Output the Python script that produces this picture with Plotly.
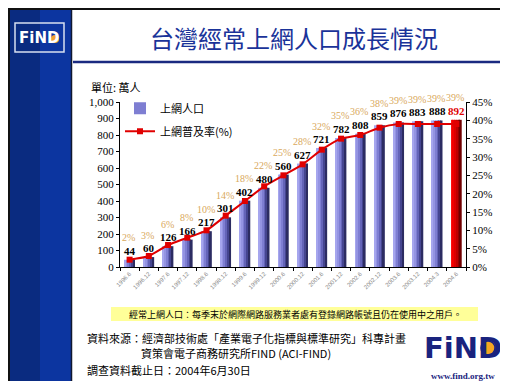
import plotly.graph_objects as go

# ---------------- data ----------------
periods = ["1996.6", "1996.12", "1997.6", "1997.12", "1998.6", "1998.12",
           "1999.6", "1999.12", "2000.6", "2000.12", "2001.6", "2001.12",
           "2002.6", "2002.12", "2003.6", "2003.12", "2004.3", "2004.6"]
users = [44, 60, 126, 166, 217, 301, 402, 480, 560, 627, 721, 782, 808, 859, 876, 883, 888, 892]
penetration = [2, 3, 6, 8, 10, 14, 18, 22, 25, 28, 32, 35, 36, 38, 39, 39, 39, 39]
left_ticks = [0, 100, 200, 300, 400, 500, 600, 700, 800, 900, 1000]
right_ticks = [0, 5, 10, 15, 20, 25, 30, 35, 40, 45]

W, H = 508, 381
PL, PR, PT, PB = 112, 458, 94, 259   # plot area in pixels


def px(x):
    return (x - PL) / (PR - PL)


def py(y):
    return (PB - y) / (PB - PT)


fig = go.Figure()

# gradient bars built from slices
blue_grad = ["#a6a6ee", "#9494e2", "#7e7ed2", "#6464b8", "#454590", "#2c2c62"]
red_grad = ["#ff1010", "#f00000", "#dc0000", "#c00000", "#980000", "#700000"]
n_sl = len(blue_grad)
bw = 0.54
sw = bw / n_sl
last = len(users) - 1
for i in range(n_sl):
    cols = [red_grad[i] if k == last else blue_grad[i] for k in range(len(users))]
    fig.add_trace(go.Bar(
        x=periods, y=users, width=sw * 1.08, offset=-bw / 2 + i * sw,
        marker=dict(color=cols, line=dict(width=0)),
        name="上網人口", showlegend=(i == 2), legendgroup="a",
        hoverinfo="skip"))

fig.add_trace(go.Scatter(
    x=periods, y=penetration, yaxis="y2", mode="lines+markers",
    line=dict(color="#e00000", width=2, shape="spline", smoothing=0.6),
    marker=dict(symbol="square", size=6, color="#e00000"),
    name="上網普及率(%)", legendgroup="b"))

# value labels and percentage labels (category index positions)
ann = []
for k, (v, p) in enumerate(zip(users, penetration)):
    ann.append(dict(x=k, y=v, xref="x", yref="y", text=f"<b>{v:,}</b>", showarrow=False,
                    yshift=9, font=dict(family="Liberation Serif", size=11,
                                        color="#e00000" if k == last else "#000000"),
                    xanchor="center", yanchor="middle"))
    ann.append(dict(x=k, y=v, xref="x", yref="y", text=f"{p}%", showarrow=False,
                    yshift=22, xshift=-1, font=dict(family="Liberation Serif", size=10,
                                                     color="#d9a95c"),
                    xanchor="center", yanchor="middle"))

# decorative page elements (pixel positions converted to paper)
shapes = [
    dict(type="rect", xref="paper", yref="paper", x0=px(0), x1=px(32), y0=py(381), y1=py(0),
         fillcolor="#0a2b80", line=dict(width=0), layer="below"),
    dict(type="rect", xref="paper", yref="paper", x0=px(32), x1=px(63), y0=py(381), y1=py(0),
         fillcolor="#0c35a0", line=dict(width=0), layer="below"),
    dict(type="line", xref="paper", yref="paper", x0=px(63.5), x1=px(63.5), y0=py(381), y1=py(0),
         line=dict(color="#101830", width=1.5)),
    dict(type="rect", xref="paper", yref="paper", x0=px(7), x1=px(56), y0=py(44), y1=py(15),
         fillcolor="rgba(0,0,0,0)", line=dict(color="#d8e0f0", width=1.5)),
    dict(type="circle", xref="paper", yref="paper", x0=px(43), x1=px(51), y0=py(35), y1=py(27),
         fillcolor="#f0a030", line=dict(width=0)),
    dict(type="line", xref="paper", yref="paper", x0=px(65), x1=px(492), y0=py(54), y1=py(54),
         line=dict(color="#1a2a80", width=2.5)),
    dict(type="rect", xref="paper", yref="paper", x0=px(103), x1=px(470), y0=py(313), y1=py(299),
         fillcolor="#ffff99", line=dict(width=0), layer="below"),
    dict(type="circle", xref="paper", yref="paper", x0=px(473), x1=px(487), y0=py(347), y1=py(333),
         fillcolor="#f5a623", line=dict(color="#1a237e", width=1.5)),
    dict(type="rect", xref="paper", yref="paper", x0=px(1), x1=px(507), y0=py(380), y1=py(1),
         fillcolor="rgba(0,0,0,0)", line=dict(color="#111111", width=2)),
]

cjk = "Noto Sans CJK TC"
page_text = [
    dict(text="台灣經常上網人口成長情況", x=286, y=30, size=24, color="#1a3399", anchor="center"),
    dict(text="<b>FiND</b>", x=31, y=30, size=15, color="#ffffff", anchor="center", fam="DejaVu Sans"),
    dict(text="單位: 萬人", x=81, y=79, size=11, color="#000000", anchor="left"),
    dict(text="經常上網人口：每季末於網際網路服務業者處有登錄網路帳號且仍在使用中之用戶。",
         x=287, y=306, size=9, color="#000000", anchor="center"),
    dict(text="資料來源：經濟部技術處「產業電子化指標與標準研究」科專計畫", x=77, y=330, size=11,
         color="#000000", anchor="left"),
    dict(text="資策會電子商務研究所FIND (ACI-FIND)", x=131, y=345, size=11, color="#000000", anchor="left"),
    dict(text="調查資料截止日：2004年6月30日", x=77, y=362, size=11, color="#000000", anchor="left"),
    dict(text="<b>FiND</b>", x=455, y=340, size=29, color="#1a237e", anchor="center", fam="DejaVu Sans"),
    dict(text="<b>www.find.org.tw</b>", x=455, y=368, size=9, color="#1a237e", anchor="center",
         fam="Liberation Serif"),
]
for t in page_text:
    ann.append(dict(text=t["text"], xref="paper", yref="paper", x=px(t["x"]), y=py(t["y"]),
                    showarrow=False, xanchor=t["anchor"], yanchor="middle",
                    font=dict(family=t.get("fam", cjk), size=t["size"], color=t["color"])))

fig.update_layout(
    width=W, height=H,
    margin=dict(l=PL, r=W - PR, t=PT, b=H - PB, autoexpand=False),
    paper_bgcolor="#ffffff", plot_bgcolor="rgba(0,0,0,0)",
    barmode="overlay",
    showlegend=True,
    legend=dict(x=0.0, y=1.05, xanchor="left", yanchor="top", bgcolor="rgba(0,0,0,0)",
                font=dict(family=cjk, size=11, color="#000000"), traceorder="grouped",
                tracegroupgap=4, itemwidth=30),
    xaxis=dict(type="category", categoryorder="array", categoryarray=periods,
               showline=True, linecolor="#000000", linewidth=1, ticks="outside",
               tickson="boundaries", ticklen=3, tickcolor="#000000", tickangle=-45,
               tickfont=dict(family="Liberation Sans", size=6, color="#888888"),
               showgrid=False, zeroline=False, range=[-0.5, len(periods) - 0.5]),
    yaxis=dict(range=[0, 1000], tickvals=left_ticks, ticktext=[f"{v:,}" for v in left_ticks],
               showline=True, linecolor="#000000", linewidth=1, ticks="outside", ticklen=3,
               tickcolor="#000000", showgrid=False, zeroline=False,
               tickfont=dict(family="Liberation Serif", size=11, color="#000000")),
    yaxis2=dict(range=[0, 45], tickvals=right_ticks, ticktext=[f"{v}%" for v in right_ticks],
                overlaying="y", side="right", showline=True, linecolor="#000000", linewidth=1,
                ticks="outside", ticklen=3, tickcolor="#000000", showgrid=False, zeroline=False,
                tickfont=dict(family="Liberation Serif", size=11, color="#000000")),
    annotations=ann,
    shapes=shapes,
)

fig.write_html("out.html")
